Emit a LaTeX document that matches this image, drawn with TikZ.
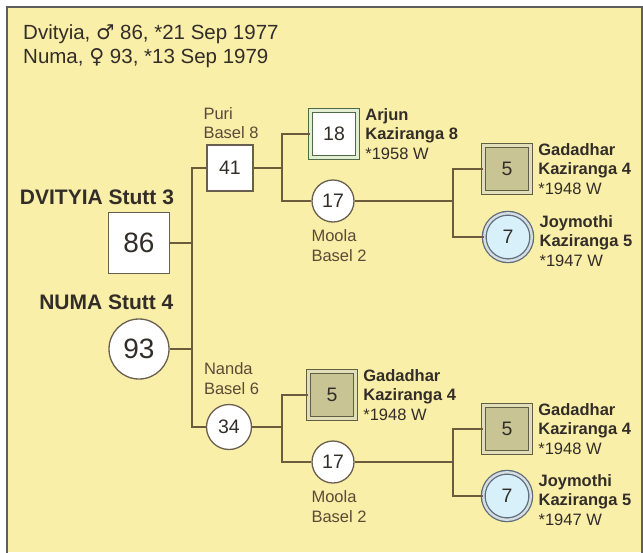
\documentclass[tikz,border=0pt]{standalone}
\usepackage{fontspec}
\setmainfont{Liberation Sans}
\newfontfamily\symfont{DejaVu Sans}
\usetikzlibrary{positioning}

\definecolor{pedbg}{RGB}{250,239,168}
\definecolor{pedframe}{RGB}{95,95,95}
\definecolor{pedline}{RGB}{110,90,60}
\definecolor{pedbox}{RGB}{105,95,80}
\definecolor{pedtext}{RGB}{50,45,40}
\definecolor{pedsub}{RGB}{90,75,55}
\definecolor{pedolive}{RGB}{95,95,65}
\definecolor{pedkhaki}{RGB}{200,196,148}
\definecolor{pedkhakilt}{RGB}{225,222,185}
\definecolor{pedgreen}{RGB}{80,105,70}
\definecolor{pedgreenlt}{RGB}{225,238,210}
\definecolor{pedblue}{RGB}{215,240,250}
\definecolor{pedbluedk}{RGB}{95,110,125}
\definecolor{pedbluelt}{RGB}{215,222,225}

\newcommand\pedhdr{\fontsize{20.5}{24}\selectfont}
\newcommand\pedmain{\fontsize{21}{24}\selectfont\bfseries}
\newcommand\pedlbl{\fontsize{16.5}{19.5}\selectfont}
\newcommand\pedbig{\fontsize{28}{32}\selectfont}
\newcommand\pednum{\fontsize{19.5}{22}\selectfont}

\begin{document}
\begin{tikzpicture}[x=1pt, y=-1pt,
    pbox/.style={draw=pedbox, fill=white, line width=1.3pt, inner sep=0pt, text=pedtext, font=\pednum},
    sqbox/.style={pbox, rectangle, minimum size=#1},
    rdbox/.style={pbox, circle, minimum size=#1},
    khakibox/.style={sqbox=47pt, draw=pedolive, line width=1.3pt, double=pedkhakilt, double distance=2.4pt, fill=pedkhaki},
    greenbox/.style={sqbox=47pt, draw=pedgreen, line width=1.3pt, double=pedgreenlt, double distance=2.4pt},
    bluebox/.style={rdbox=47.5pt, draw=pedbluedk, line width=1.3pt, double=pedbluelt, double distance=2.4pt, fill=pedblue},
    conn/.style={draw=pedline, line width=1.5pt},
    lbl/.style={inner sep=0pt, align=left, font=\pedlbl, text=pedsub},
    namelbl/.style={inner sep=0pt, align=left, font=\pedlbl, text=pedtext, anchor=west},
    mainlbl/.style={inner sep=0pt, font=\pedmain, text=pedtext, anchor=south east},
    hdr/.style={inner sep=0pt, font=\pedhdr, text=pedtext, anchor=base west}]
  \useasboundingbox (0,0) rectangle (643,552);
  % background and frame
  \fill[pedbg] (8,7) rectangle (643,552);
  \draw[pedframe, line width=2pt] (7,560) -- (7,7) -- (641.5,7) -- (641.5,560);

  % header
  \node[hdr] (hdrsire) at (23,39) {Dvityia, {\symfont ♂} 86, *21 Sep 1977};
  \node[hdr] (hdrdam) at (23,63) {Numa, {\symfont ♀} 93, *13 Sep 1979};

  % the pair
  \node[sqbox=61pt, font=\pedbig] (n86) at (139,243) {86};
  \node[rdbox=60pt, font=\pedbig] (n93) at (139,349) {93};
  \node[mainlbl] (l86) at ([xshift=4pt, yshift=7pt]n86.north east) {DVITYIA Stutt 3};
  \node[mainlbl] (l93) at ([xshift=4pt, yshift=8pt]n93.north -| n93.east) {NUMA Stutt 4};

  % parents
  \node[sqbox=46pt] (n41) at (230,168) {41};
  \node[rdbox=45pt] (n34) at (229,427) {34};
  \node[lbl, anchor=south west] (l41) at ([xshift=-3pt, yshift=5pt]n41.north west) {Puri\\Basel 8};
  \node[lbl, anchor=south west] (l34) at ([xshift=-2pt, yshift=9pt]n34.north -| n34.west) {Nanda\\Basel 6};

  % grandparents
  \node[greenbox, fill=white] (n18) at (334,134) {18};
  \node[rdbox=42pt] (n17a) at (333,201) {17};
  \node[khakibox] (n5a) at (332,395) {5};
  \node[rdbox=42pt] (n17b) at (333,462) {17};
  \node[namelbl, right=7pt of n18] (l18) {\textbf{Arjun}\\\textbf{Kaziranga 8}\\{}*1958 W};
  \node[namelbl, right=7pt of n5a] (l5a) {\textbf{Gadadhar}\\\textbf{Kaziranga 4}\\{}*1948 W};
  \node[lbl, anchor=north west] (l17a) at ([yshift=-7pt]n17a.south -| n17a.west) {Moola\\Basel 2};
  \node[lbl, anchor=north west] (l17b) at ([yshift=-7pt]n17b.south -| n17b.west) {Moola\\Basel 2};

  % great-grandparents
  \node[khakibox] (n5b) at (507,169) {5};
  \node[bluebox] (n7a) at (508,237) {7};
  \node[khakibox] (n5c) at (507,429) {5};
  \node[bluebox] (n7b) at (507,496) {7};
  \node[namelbl, right=7pt of n5b] (l5b) {\textbf{Gadadhar}\\\textbf{Kaziranga 4}\\{}*1948 W};
  \node[namelbl, right=7pt of n7a, yshift=-4pt] (l7a) {\textbf{Joymothi}\\\textbf{Kaziranga 5}\\{}*1947 W};
  \node[namelbl, right=7pt of n5c] (l5c) {\textbf{Gadadhar}\\\textbf{Kaziranga 4}\\{}*1948 W};
  \node[namelbl, right=7pt of n7b, yshift=-4pt] (l7b) {\textbf{Joymothi}\\\textbf{Kaziranga 5}\\{}*1947 W};

  % junction columns
  \coordinate (jA) at (192,0);
  \coordinate (jB) at (282,0);
  \coordinate (jC) at (453,0);

  % connectors
  \draw[conn] (n86.east) -- (n86 -| jA);
  \draw[conn] (n93.east) -- (n93 -| jA);
  \draw[conn] (n41.west) -| (jA |- n34) -- (n34.west);
  \draw[conn] (n41.east) -| (jB |- n18) -- (n18.west);
  \draw[conn] (n41 -| jB) |- (n17a.west);
  \draw[conn] (n34.east) -| (jB |- n5a) -- (n5a.west);
  \draw[conn] (n34 -| jB) |- (n17b.west);
  \draw[conn] (n17a.east) -| (jC |- n5b) -- (n5b.west);
  \draw[conn] (n17a -| jC) |- (n7a.west);
  \draw[conn] (n17b.east) -| (jC |- n5c) -- (n5c.west);
  \draw[conn] (n17b -| jC) |- (n7b.west);
\end{tikzpicture}
\end{document}
